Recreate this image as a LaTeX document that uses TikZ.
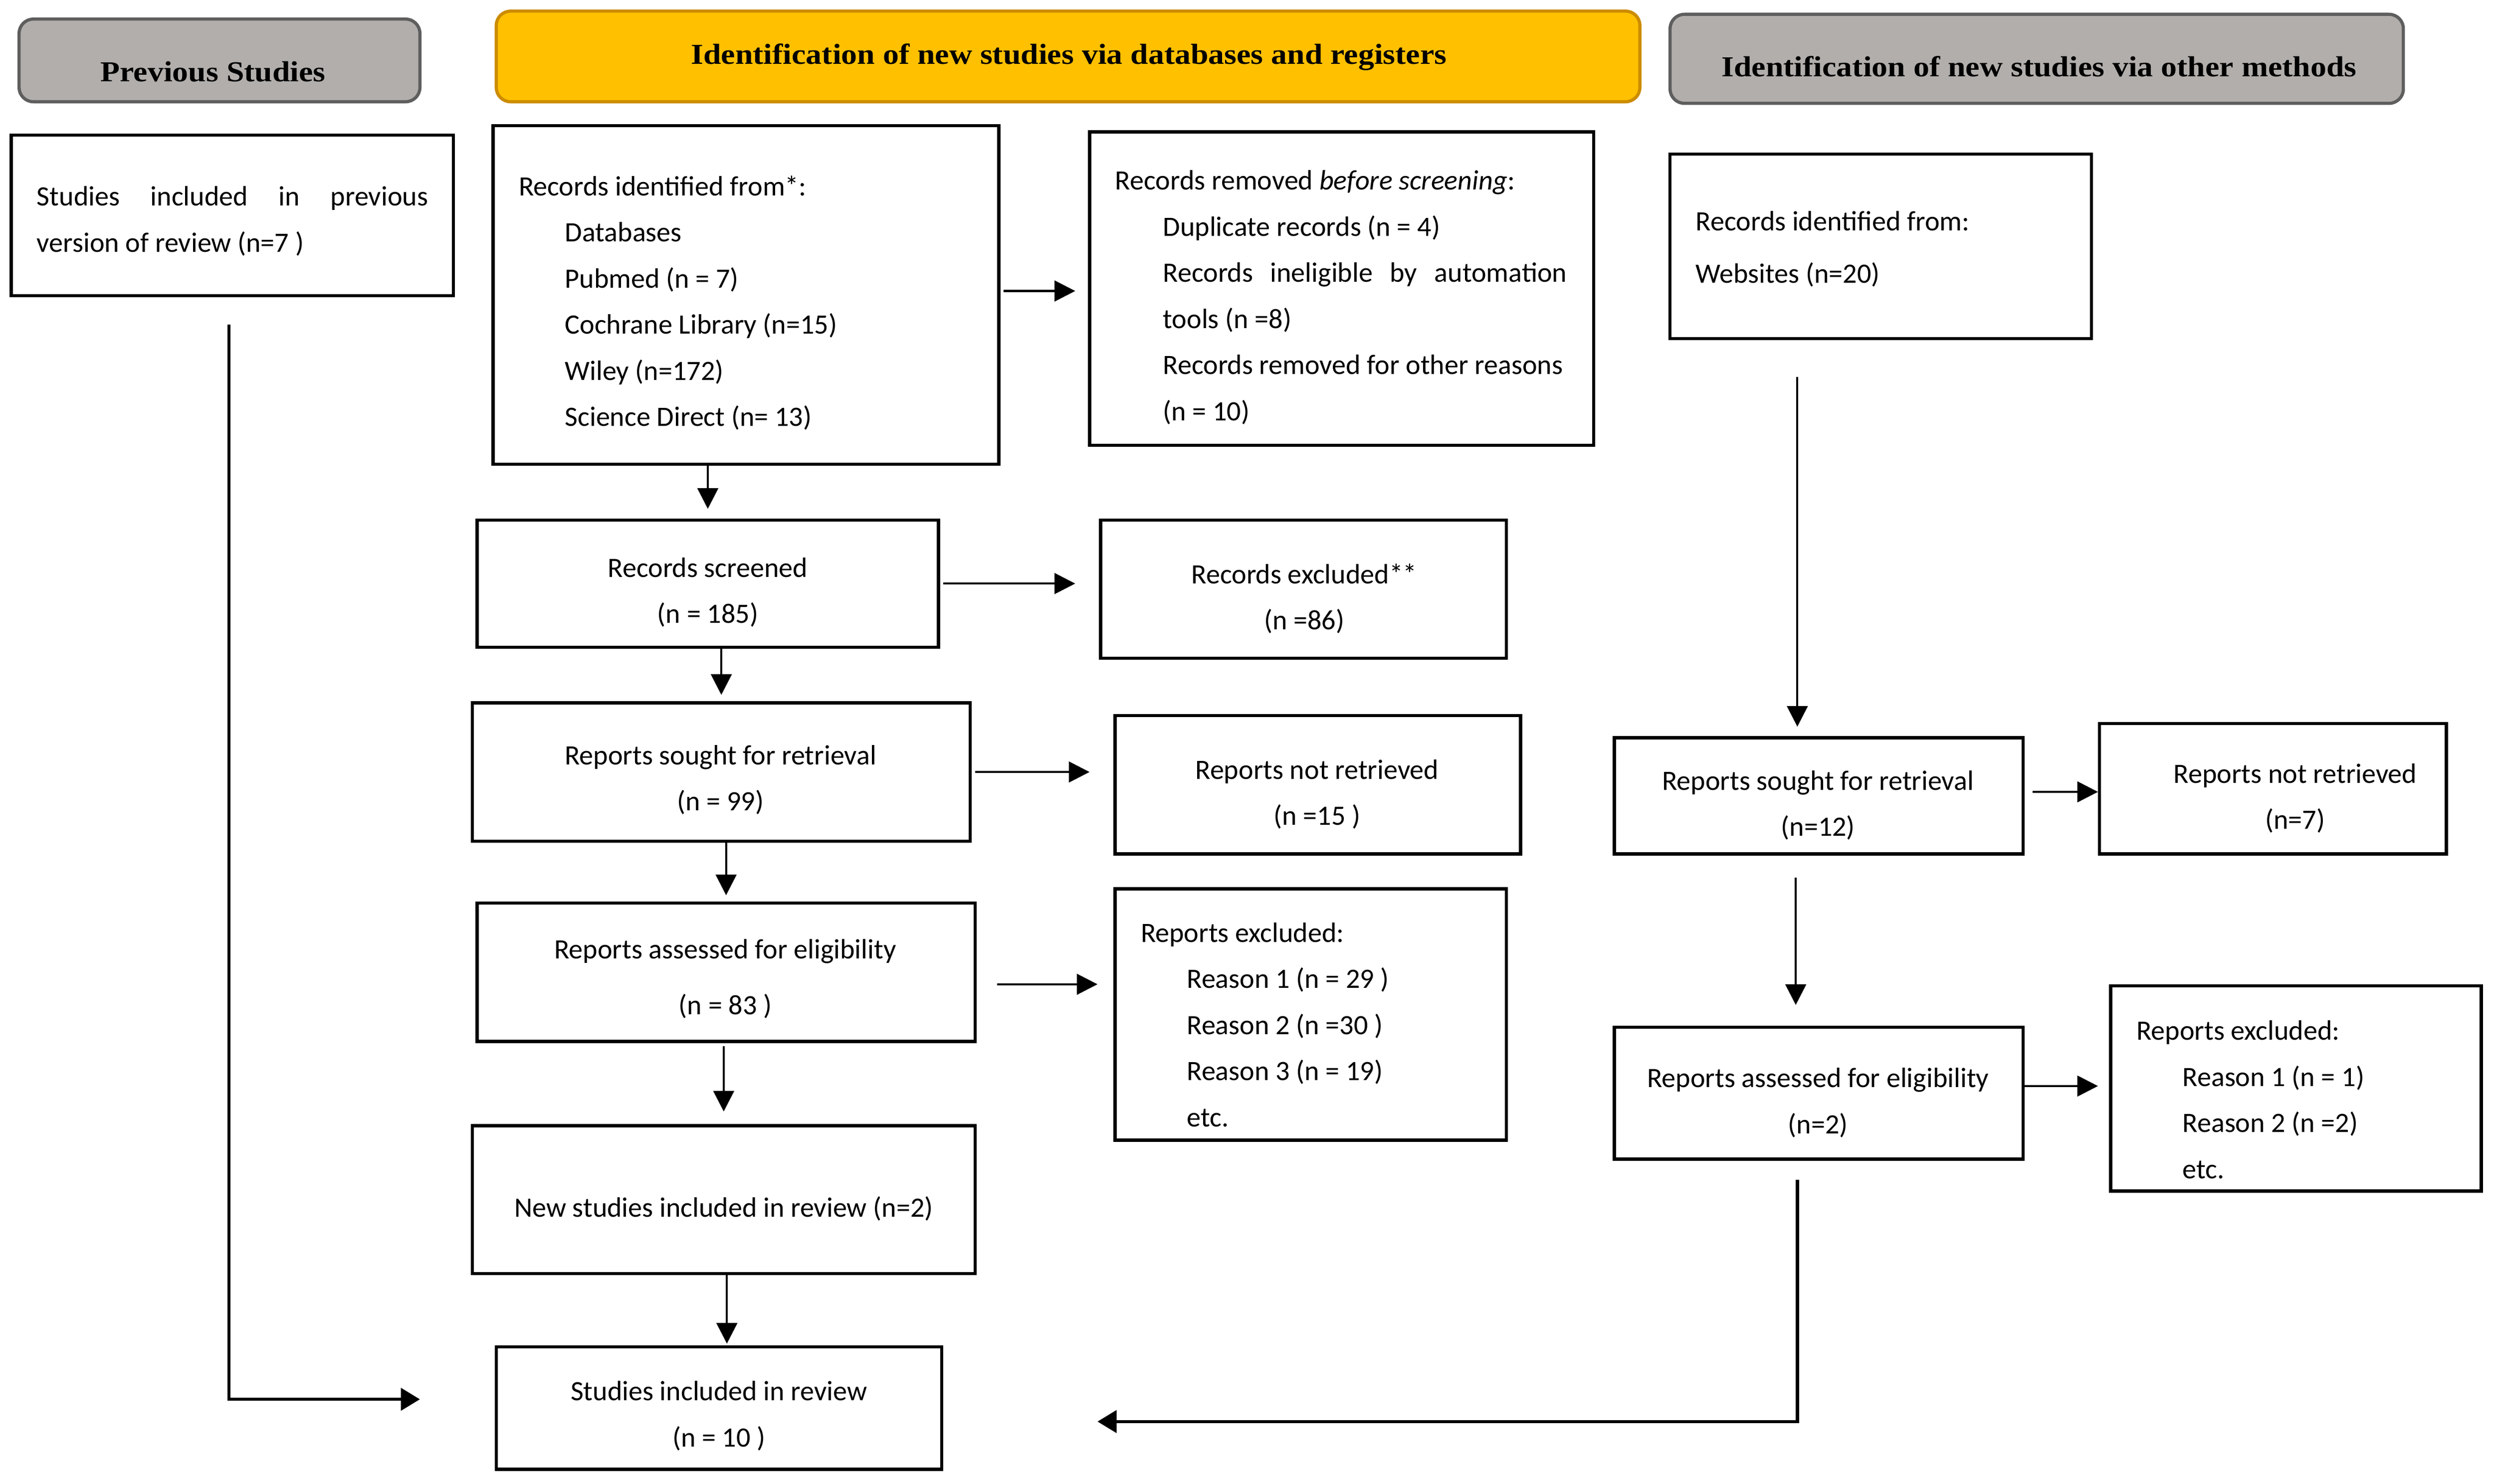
\documentclass[tikz,border=0pt]{standalone}
\usepackage{fontspec}
\setmainfont{Carlito}
\newfontfamily\headfont{Liberation Serif}[FakeStretch=1.1]
\usetikzlibrary{arrows.meta}
\definecolor{hgray}{RGB}{177,174,172}
\definecolor{hgrayb}{RGB}{94,94,94}
\definecolor{hyel}{RGB}{255,192,0}
\definecolor{hyelb}{RGB}{204,140,0}
\tikzset{
  box/.style={draw=black, line width=2pt, inner sep=0pt, fill=white},
  txt/.style={inner sep=0pt, font=\fontsize{17.6}{29}\selectfont, align=center},
  ltxt/.style={inner sep=0pt, font=\fontsize{17.6}{29}\selectfont, align=left, anchor=west},
  ghead/.style={draw=hgrayb, fill=hgray, rounded corners=9pt, line width=2pt, inner sep=0pt},
  yhead/.style={draw=hyelb, fill=hyel, rounded corners=9pt, line width=2pt, inner sep=0pt},
  htxt/.style={inner sep=0pt, font=\headfont\bfseries\fontsize{18.2}{21}\selectfont},
  arr/.style={line width=1.3pt, -{Triangle[length=13pt,width=13pt]}},
  bigarr/.style={line width=2pt, -{Triangle[length=12pt,width=14pt]}},
}
\begin{document}
\begin{tikzpicture}[x=1pt,y=-1pt]
\useasboundingbox (0,0) rectangle (1568,933);
% headers
\node[ghead, minimum width=252pt, minimum height=52pt] (hprev) at (138,38) {};
\node[htxt] (hprevt) at (134,45) {Previous Studies};
\node[yhead, minimum width=719pt, minimum height=57pt] (hdb) at (671.5,35.5) {};
\node[htxt] (hdbt) at (672,36) {Identification of new studies via databases and registers};
\node[ghead, minimum width=461pt, minimum height=56pt] (hoth) at (1280.5,37) {};
\node[htxt] (hotht) at (1282,42) {Identification of new studies via other methods};
% boxes
\node[box, minimum width=278pt, minimum height=101pt] (prev) at (146,135.5) {};
\node[box, minimum width=318pt, minimum height=213pt] (ident) at (469,185.5) {};
\node[box, minimum width=317pt, minimum height=197pt] (removed) at (843.5,181.5) {};
\node[box, minimum width=265pt, minimum height=116pt] (web) at (1182.5,155) {};
\node[box, minimum width=290pt, minimum height=80pt] (screened) at (445,367) {};
\node[box, minimum width=255pt, minimum height=87pt] (excluded) at (819.5,370.5) {};
\node[box, minimum width=313pt, minimum height=87pt] (sought) at (453.5,485.5) {};
\node[box, minimum width=255pt, minimum height=87pt] (notret) at (828.5,493.5) {};
\node[box, minimum width=313pt, minimum height=87pt] (assessed) at (456.5,611.5) {};
\node[box, minimum width=246pt, minimum height=158pt] (excltwo) at (824,638) {};
\node[box, minimum width=316pt, minimum height=93pt] (newinc) at (455,754.5) {};
\node[box, minimum width=280pt, minimum height=77pt] (incl) at (452,885.5) {};
\node[box, minimum width=257pt, minimum height=73pt] (soughttwo) at (1143.5,500.5) {};
\node[box, minimum width=218pt, minimum height=82pt] (notrettwo) at (1429,496) {};
\node[box, minimum width=257pt, minimum height=83pt] (assessedtwo) at (1143.5,687.5) {};
\node[box, minimum width=233pt, minimum height=129pt] (exclthree) at (1443.5,684.5) {};
% texts
\node[ltxt] (prevt) at (23,139) {\makebox[246pt][s]{Studies included in previous}\\version of review (n=7 )};
\node[ltxt] (identt) at (326,190.5) {Records identified from*:\\
\hspace*{29pt}Databases\\
\hspace*{29pt}Pubmed (n = 7)\\
\hspace*{29pt}Cochrane Library (n=15)\\
\hspace*{29pt}Wiley (n=172)\\
\hspace*{29pt}Science Direct (n= 13)};
\node[ltxt] (removedt) at (701,187) {Records removed \textit{before screening}:\\
\hspace*{30pt}Duplicate records (n = 4)\\
\hspace*{30pt}\makebox[254pt][s]{Records ineligible by automation}\\
\hspace*{30pt}tools (n =8)\\
\hspace*{30pt}Records removed for other reasons\\
\hspace*{30pt}(n = 10)};
\node[ltxt] (webt) at (1066,156.5) {Records identified from:\\[4pt]Websites (n=20)};
\node[txt] (screenedt) at (445,372.5) {Records screened\\(n = 185)};
\node[txt] (excludedt) at (820,376.5) {Records excluded**\\(n =86)};
\node[txt] (soughtt) at (453,490.5) {Reports sought for retrieval\\(n = 99)};
\node[txt] (notrett) at (828,499.5) {Reports not retrieved\\(n =15 )};
\node[txt] (assessedt) at (456,615.5) {Reports assessed for eligibility\\[6pt](n = 83 )};
\node[ltxt] (excltwot) at (717,644.5) {Reports excluded:\\
\hspace*{29pt}Reason 1 (n = 29 )\\
\hspace*{29pt}Reason 2 (n =30 )\\
\hspace*{29pt}Reason 3 (n = 19)\\
\hspace*{29pt}etc.};
\node[txt] (newinct) at (455,760) {New studies included in review (n=2)};
\node[txt] (inclt) at (452,890.5) {Studies included in review\\(n = 10 )};
\node[txt] (soughttwot) at (1143,506.5) {Reports sought for retrieval\\(n=12)};
\node[txt] (notrettwot) at (1443,502) {Reports not retrieved\\(n=7)};
\node[txt] (assessedtwot) at (1143,693.5) {Reports assessed for eligibility\\(n=2)};
\node[ltxt] (exclthreet) at (1343,691.5) {Reports excluded:\\
\hspace*{29pt}Reason 1 (n = 1)\\
\hspace*{29pt}Reason 2 (n =2)\\
\hspace*{29pt}etc.};
% free ends
\coordinate (inclL) at (264,880);
\coordinate (inclR) at (690,894);
% connectors
\draw[arr, shorten <=2pt, shorten >=8pt] ([yshift=2.5pt]ident.east) -- ([yshift=2.5pt]ident.east -| removed.west);
\draw[arr, shorten >=6pt] (ident.south -| screened.north) -- (screened.north);
\draw[arr, shorten <=2pt, shorten >=15pt] (screened.east) -- (screened.east -| excluded.west);
\draw[arr, shorten <=-2pt, shorten >=4pt] (screened.south -| sought.north) -- (sought.north);
\draw[arr, shorten <=2pt, shorten >=15pt] (sought.east) -- (sought.east -| notret.west);
\draw[arr, shorten >=4pt] (sought.south -| assessed.north) -- (assessed.north);
\draw[arr, shorten <=13pt, shorten >=10pt] ([yshift=-7.5pt]assessed.east) -- ([yshift=-7.5pt]assessed.east -| excltwo.west);
\draw[arr, shorten <=2pt, shorten >=8pt] (assessed.south -| newinc.north) -- (newinc.north);
\draw[arr, shorten >=1pt] ([xshift=2pt]newinc.south) -- ([xshift=2pt]newinc.south |- incl.north);
\draw[arr, shorten <=23pt, shorten >=6pt] ([xshift=-52.5pt]web.south) -- ([xshift=-13.5pt]soughttwo.north);
\draw[arr, shorten <=5pt] ([yshift=2.5pt]soughttwo.east) -- ([yshift=2.5pt]soughttwo.east -| notrettwo.west);
\draw[arr, shorten <=14pt, shorten >=13pt] ([xshift=-14.5pt]soughttwo.south) -- ([xshift=-14.5pt]assessedtwo.north);
\draw[arr, shorten >=7pt] ([yshift=4.5pt]assessedtwo.east) -- ([yshift=4.5pt]assessedtwo.east -| exclthree.west);
\draw[bigarr] ([xshift=-2pt,yshift=-17pt]prev.south) |- (inclL);
\draw[bigarr] ([xshift=-13.5pt,yshift=-12pt]assessedtwo.south) |- (inclR);
\end{tikzpicture}
\end{document}
